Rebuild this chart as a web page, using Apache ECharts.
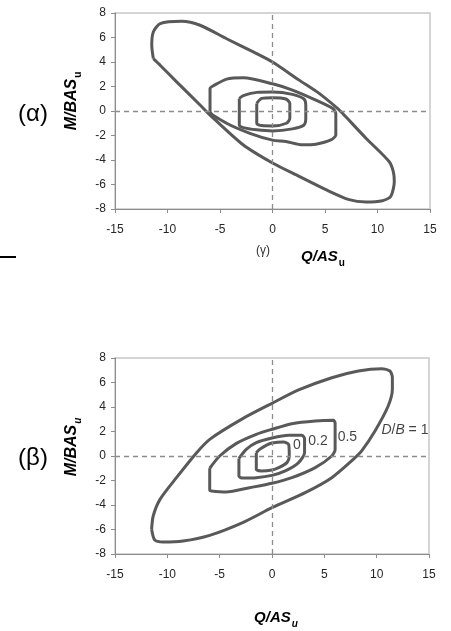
<!DOCTYPE html>
<html>
<head>
<meta charset="utf-8">
<script src="https://cdn.jsdelivr.net/npm/echarts@6/dist/echarts.min.js"></script>
<style>html,body{margin:0;padding:0;background:#fff;}#c{width:451px;height:631px;}</style>
</head>
<body>
<div id="c"></div>
<script>
// ---- data (Q/ASu, M/BASu) ----
var xTicks = [-15, -10, -5, 0, 5, 10, 15];
var yTicks = [-8, -6, -4, -2, 0, 2, 4, 6, 8];

// chart (α)
var alphaDB1 = [[-11.35,4.28],[-11.5,5.37],[-11.35,6.45],[-10.7,7.13],[-8.65,7.32],[-6.9,7.0],[-4.37,5.9],[-1.83,4.82],[0,4.0],[2.54,2.52],[4.44,1.44],[6.19,0.22],[6.67,-0.19],[8.9,-2.22],[11.1,-4.12],[11.5,-4.93],[11.6,-5.75],[11.27,-6.96],[10.48,-7.32],[8.9,-7.43],[7.3,-7.24],[5.08,-6.42],[2.54,-5.34],[0,-4.25],[-2.8,-2.76],[-5.95,-0.33],[-6.9,0.49],[-9.13,2.38],[-10.7,3.74],[-11.35,4.28]];
var alphaDB05 = [[-5.95,0.08],[-5.95,1.84],[-5.63,2.06],[-4.37,2.6],[-2.78,2.71],[0,2.22],[1.9,1.71],[4.13,0.89],[5.71,0.22],[6.03,-0.19],[6.03,-1.95],[5.56,-2.36],[4.13,-2.71],[2.86,-2.76],[1.27,-2.49],[0,-2.38],[-2.15,-1.82],[-4.37,-1.0],[-5.95,-0.05],[-5.95,0.08]];
var alphaDB02 = [[-3.16,1.03],[-2.78,1.25],[-1.5,1.52],[0,1.55],[1.9,1.36],[3.0,0.98],[3.17,0.49],[3.17,-0.6],[3.0,-1.14],[1.9,-1.46],[0,-1.63],[-1.5,-1.54],[-2.78,-1.36],[-3.16,-1.14],[-3.16,1.03]];
var alphaDB0 = [[-1.5,0.62],[-1.03,1.03],[0,1.08],[1.27,0.98],[1.65,0.62],[1.65,-0.6],[1.33,-1.0],[0,-1.22],[-1.03,-1.19],[-1.5,-1.0],[-1.5,0.62]];

// chart (β)
var betaDB1 = [[-11.5,-5.99],[-11.35,-4.9],[-10.7,-3.54],[-9.13,-1.77],[-7.2,0.27],[-5.95,1.36],[-2.8,3.05],[0,4.3],[2.54,5.39],[5.71,6.39],[8.25,6.94],[10.48,7.13],[11.27,6.94],[11.5,6.39],[11.5,5.44],[11.1,4.08],[9.84,2.04],[8.57,0.41],[7.94,-0.14],[5.71,-1.77],[3.17,-2.99],[0,-4.22],[-2.8,-5.44],[-5.95,-6.48],[-8.5,-6.94],[-10.4,-7.02],[-11.2,-6.86],[-11.5,-5.99]];
var betaDB05 = [[-5.95,-1.0],[-5.0,0],[-3.4,1.03],[-1.5,1.77],[0,2.18],[1.9,2.64],[4.13,2.86],[5.87,2.91],[6.03,2.67],[6.03,0.54],[5.71,0],[4.13,-0.95],[1.9,-1.77],[0,-2.23],[-2.15,-2.59],[-4.37,-2.94],[-5.8,-2.86],[-5.95,-2.8],[-5.95,-1.0]];
var betaDB02 = [[-3.16,-0.2],[-2.46,0.54],[-1.5,1.09],[0,1.47],[1.59,1.69],[2.86,1.69],[3.11,1.42],[3.11,0.27],[2.54,-0.54],[1.27,-1.22],[0,-1.58],[-1.5,-1.77],[-2.9,-1.8],[-3.16,-1.63],[-3.16,-0.2]];
var betaDB0 = [[-1.5,0.27],[-1.19,0.54],[-0.56,0.87],[0,1.06],[1.11,1.14],[1.59,0.95],[1.65,0],[1.43,-0.54],[0.63,-0.95],[0,-1.14],[-1.03,-1.22],[-1.5,-1.09],[-1.5,0.27]];

// curve labels (β)
var curveLabels = ['0', '0.2', '0.5', '{i|D}/{i|B} = 1'];
var curveLabelPos = [[2.38,0.9],[4.39,1.22],[7.2,1.55],[12.7,2.12]];

// ---- chart ----
var FONT = 'Liberation Sans, Arial, sans-serif';
var LINE = '#595959';
var chart = echarts.init(document.getElementById('c'), null, {renderer: 'canvas'});

function xAx(gi) {
  return {
    type: 'value', gridIndex: gi, min: -15, max: 15, interval: 5,
    axisLine: {show: true, onZero: false, lineStyle: {color: '#8c8c8c', width: 1}},
    axisTick: {show: true, length: 4, lineStyle: {color: '#8c8c8c'}},
    axisLabel: {fontFamily: FONT, fontSize: 12, color: '#262626', margin: 15,
      formatter: function (v) { return xTicks.indexOf(v) >= 0 ? String(v) : ''; }},
    splitLine: {show: false}
  };
}
function yAx(gi) {
  return {
    type: 'value', gridIndex: gi, min: -8, max: 8, interval: 2,
    axisLine: {show: true, onZero: false, lineStyle: {color: '#8c8c8c', width: 1}},
    axisTick: {show: true, length: 4, lineStyle: {color: '#8c8c8c'}},
    axisLabel: {fontFamily: FONT, fontSize: 12, color: '#262626', margin: 9,
      formatter: function (v) { return yTicks.indexOf(v) >= 0 ? String(v) : ''; }},
    splitLine: {show: false}
  };
}
function curve(data, gi) {
  return {
    type: 'line', xAxisIndex: gi, yAxisIndex: gi, data: data,
    showSymbol: false, symbol: 'none', smooth: 0.25, silent: true,
    lineStyle: {color: LINE, width: 3}, animation: false
  };
}
function zeroLines(gi) {
  return {
    type: 'line', xAxisIndex: gi, yAxisIndex: gi, data: [], silent: true, animation: false,
    markLine: {
      silent: true, symbol: ['none', 'none'], label: {show: false},
      lineStyle: {color: '#8c8c8c', width: 1.3, type: [5, 4]},
      data: [{xAxis: 0}, {yAxis: 0}], animation: false
    }
  };
}

var mainRich = function (subItalic, size) {
  return {
    m: {fontFamily: FONT, fontSize: size, fontWeight: 'bold', fontStyle: 'italic', color: '#1a1a1a', lineHeight: 22},
    s: {fontFamily: FONT, fontSize: 10, fontWeight: 'bold', fontStyle: subItalic ? 'italic' : 'normal', color: '#1a1a1a', lineHeight: 22, verticalAlign: 'bottom', padding: [0, 0, 0, 1]}
  };
};

var option = {
  animation: false,
  grid: [
    {left: 115, top: 13, width: 315, height: 196, show: true, borderColor: '#c8c8c8', borderWidth: 1.5, backgroundColor: 'transparent'},
    {left: 115, top: 358, width: 314, height: 196, show: true, borderColor: '#c8c8c8', borderWidth: 1.5, backgroundColor: 'transparent'}
  ],
  xAxis: [xAx(0), xAx(1)],
  yAxis: [yAx(0), yAx(1)],
  series: [
    zeroLines(0), zeroLines(1),
    curve(alphaDB1, 0), curve(alphaDB05, 0), curve(alphaDB02, 0), curve(alphaDB0, 0),
    curve(betaDB1, 1), curve(betaDB05, 1), curve(betaDB02, 1), curve(betaDB0, 1),
    {
      type: 'scatter', xAxisIndex: 1, yAxisIndex: 1, symbolSize: 1, silent: true,
      itemStyle: {color: 'rgba(0,0,0,0)'},
      data: curveLabelPos.map(function (p, i) { return {value: p, name: curveLabels[i]}; }),
      label: {
        show: true, position: 'inside', formatter: '{b}',
        fontFamily: FONT, fontSize: 14, color: '#111',
        rich: {i: {fontFamily: FONT, fontSize: 14, fontStyle: 'italic', color: '#111'}}
      }
    }
  ],
  graphic: [
    {type: 'text', x: 33, y: 114, style: {text: '(α)', fontFamily: FONT, fontSize: 24, fill: '#000', align: 'center', verticalAlign: 'middle'}},
    {type: 'text', x: 33, y: 458, style: {text: '(β)', fontFamily: FONT, fontSize: 24, fill: '#000', align: 'center', verticalAlign: 'middle'}},
    {type: 'text', x: 263, y: 251, style: {text: '(γ)', fontFamily: FONT, fontSize: 12, fill: '#333', align: 'center', verticalAlign: 'middle'}},
    {type: 'rect', shape: {x: 0, y: 256, width: 16, height: 2}, style: {fill: '#000'}},
    {type: 'text', x: 72, y: 101, rotation: Math.PI / 2,
      style: {text: '{m|M/BAS}{s|u}', rich: mainRich(false, 16), align: 'center', verticalAlign: 'middle'}},
    {type: 'text', x: 323, y: 257,
      style: {text: '{m|Q/AS}{s|u}', rich: mainRich(false, 15), align: 'center', verticalAlign: 'middle'}},
    {type: 'text', x: 72, y: 447, rotation: Math.PI / 2,
      style: {text: '{m|M/BAS}{s|u}', rich: mainRich(true, 16), align: 'center', verticalAlign: 'middle'}},
    {type: 'text', x: 276, y: 618,
      style: {text: '{m|Q/AS}{s|u}', rich: mainRich(true, 15), align: 'center', verticalAlign: 'middle'}}
  ]
};
chart.setOption(option);
</script>
</body>
</html>
